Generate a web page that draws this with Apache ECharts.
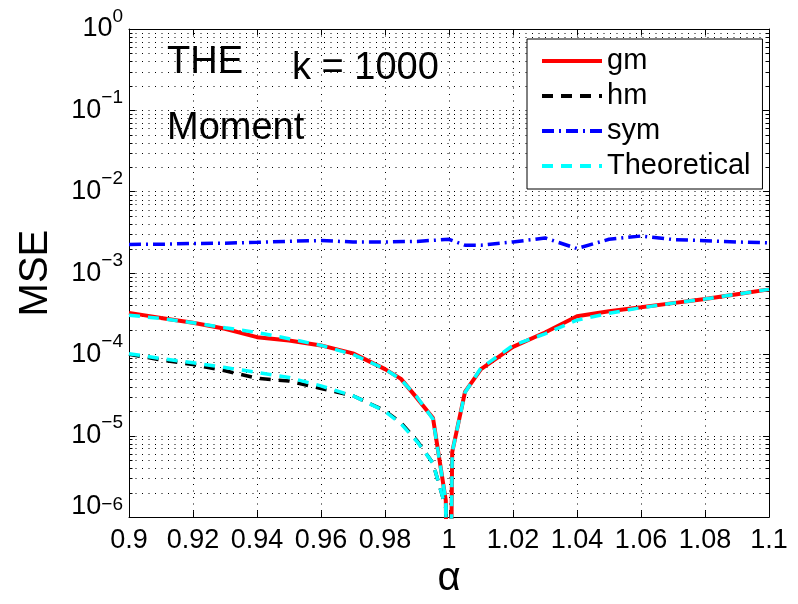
<!DOCTYPE html>
<html><head><meta charset="utf-8">
<script src="https://cdn.jsdelivr.net/npm/echarts@6/dist/echarts.min.js"></script>
<style>html,body{margin:0;padding:0;background:#fff}#c{width:798px;height:604px}</style>
</head><body><div id="c"></div>
<script>
// ---- data ----
const alpha = [0.90,0.91,0.92,0.93,0.94,0.95,0.96,0.97,0.98,0.985,0.99,0.995,0.999,1.000,1.001,1.005,1.01,1.02,1.03,1.04,1.05,1.06,1.07,1.08,1.09,1.10];
const gm = [3.24e-4,2.81e-4,2.45e-4,2.07e-4,1.63e-4,1.48e-4,1.29e-4,1.03e-4,6.6e-5,5.0e-5,2.9e-5,1.65e-5,1.6e-6,1e-9,6.3e-6,3.47e-5,6.6e-5,1.24e-4,1.86e-4,2.94e-4,3.39e-4,3.8e-4,4.27e-4,4.8e-4,5.5e-4,6.3e-4];
const theoGm = [3.03e-4,2.76e-4,2.45e-4,2.13e-4,1.86e-4,1.56e-4,1.29e-4,1.0e-4,6.6e-5,4.9e-5,3.0e-5,1.6e-5,1.6e-6,1e-9,6.3e-6,3.4e-5,6.8e-5,1.29e-4,1.79e-4,2.64e-4,3.2e-4,3.75e-4,4.27e-4,4.8e-4,5.5e-4,6.3e-4];
const alphaHm = [0.90,0.91,0.92,0.93,0.94,0.95,0.96,0.97,0.98,0.985,0.99,0.995,0.999,1.000];
const hm = [1.0e-4,8.55e-5,7.5e-5,6.3e-5,5.1e-5,4.7e-5,3.8e-5,3.1e-5,2.03e-5,1.44e-5,8.7e-6,4.6e-6,1.3e-6,1e-9];
const theoHm = [1.02e-4,8.9e-5,7.9e-5,6.9e-5,6.0e-5,5.2e-5,4.1e-5,3.1e-5,2.0e-5,1.4e-5,8.5e-6,4.6e-6,1.3e-6,1e-9];
const alphaSym = [0.90,0.91,0.92,0.93,0.94,0.95,0.96,0.97,0.98,0.99,1.00,1.005,1.01,1.02,1.03,1.04,1.05,1.06,1.07,1.08,1.09,1.10];
const sym = [2.25e-3,2.26e-3,2.31e-3,2.33e-3,2.39e-3,2.46e-3,2.51e-3,2.41e-3,2.41e-3,2.45e-3,2.6e-3,2.2e-3,2.2e-3,2.41e-3,2.7e-3,2.0e-3,2.6e-3,2.85e-3,2.58e-3,2.5e-3,2.41e-3,2.35e-3];
const xTicks = [0.9,0.92,0.94,0.96,0.98,1,1.02,1.04,1.06,1.08,1.1];
const yDecades = [-6,-5,-4,-3,-2,-1,0];
const legendNames = ['gm','hm','sym','Theoretical'];

const FONT = 'Liberation Sans, Arial, Helvetica, sans-serif';
const pairs = (xs, ys) => xs.map((x, i) => [x, ys[i]]);

// minor log grid positions (2..9 x 10^e)
const minorVals = [];
for (let k = 0; k < yDecades.length - 1; k++) {
  for (let m = 2; m <= 9; m++) minorVals.push([xTicks[0], m * Math.pow(10, yDecades[k])]);
}
const X0 = xTicks[0], X1 = xTicks[xTicks.length - 1];

const chart = echarts.init(document.getElementById('c'), null, {renderer: 'canvas'});

const dotted = [1, 5.5];
const yLabelFmt = v => {
  const e = Math.round(Math.log10(v));
  const s = e === 0 ? '0' : '\u2212' + (-e);
  if (e === yDecades[0]) return '{bl|10}{s|' + s + '}';
  return '{b|10}{s|' + s + '}';
};

const option = {
  backgroundColor: '#fff',
  animation: false,
  grid: {left: 129, right: 29, top: 29, bottom: 76, containLabel: false},
  legend: {
    data: legendNames,
    orient: 'vertical',
    left: 527, top: 39,
    backgroundColor: '#fff',
    borderColor: '#000', borderWidth: 1, borderRadius: 0,
    padding: [7, 12, 8, 13],
    itemWidth: 60, itemHeight: 14, itemGap: 5,
    selectedMode: false,
    itemStyle: {opacity: 0},
    lineStyle: {width: 4},
    textStyle: {fontFamily: FONT, fontSize: 29, color: '#000', lineHeight: 30}
  },
  xAxis: [{
    type: 'value', min: X0, max: X1, interval: 0.02,
    name: '\u03b1', nameLocation: 'middle', nameGap: 35,
    nameTextStyle: {fontFamily: FONT, fontSize: 40, color: '#000'},
    axisLine: {show: true, lineStyle: {color: '#000', width: 1}},
    axisTick: {show: true, inside: true, length: 6, lineStyle: {color: '#000'}},
    axisLabel: {margin: 10, fontFamily: FONT, fontSize: 27, color: '#000',
      formatter: v => String(+v.toFixed(2))},
    splitLine: {show: true, lineStyle: {color: '#000', width: 1, type: dotted}}
  }, {
    type: 'value', min: X0, max: X1, interval: 0.02, position: 'top',
    axisLine: {show: true, onZero: false, lineStyle: {color: '#000', width: 1}},
    axisTick: {show: true, inside: true, length: 6, lineStyle: {color: '#000'}},
    axisLabel: {show: false}, splitLine: {show: false}
  }],
  yAxis: [{
    type: 'log', logBase: 10, min: Math.pow(10, yDecades[0]), max: Math.pow(10, yDecades[yDecades.length-1]), interval: 1,
    name: 'MSE', nameLocation: 'middle', nameGap: 73, nameRotate: 90,
    nameTextStyle: {fontFamily: FONT, fontSize: 40, color: '#000'},
    axisLine: {show: true, lineStyle: {color: '#000', width: 1}},
    axisTick: {show: true, inside: true, length: 6, lineStyle: {color: '#000'}},
    axisLabel: {margin: 6, formatter: yLabelFmt,
      rich: {
        b: {fontFamily: FONT, fontSize: 27, color: '#000', lineHeight: 44, verticalAlign: 'middle'},
        bl: {fontFamily: FONT, fontSize: 27, color: '#000', lineHeight: 44, verticalAlign: 'middle', padding: [0, 0, 22, 0]},
        s: {fontFamily: FONT, fontSize: 19, color: '#000', lineHeight: 10, verticalAlign: 'top'}
      }},
    splitLine: {show: true, lineStyle: {color: '#000', width: 1, type: dotted}}
  }, {
    type: 'log', logBase: 10, min: Math.pow(10, yDecades[0]), max: Math.pow(10, yDecades[yDecades.length-1]), interval: 1,
    position: 'right',
    axisLine: {show: true, onZero: false, lineStyle: {color: '#000', width: 1}},
    axisTick: {show: true, inside: true, length: 6, lineStyle: {color: '#000'}},
    axisLabel: {show: false}, splitLine: {show: false}
  }],
  graphic: [
    {type: 'text', left: 167, top: 62.5 - 19, style: {text: 'THE', fontFamily: FONT, fontSize: 38, fill: '#000'}},
    {type: 'text', left: 167, top: 128.5 - 19, style: {text: 'Moment', fontFamily: FONT, fontSize: 38, fill: '#000'}},
    {type: 'text', left: 292, top: 69 - 19, style: {text: 'k = 1000', fontFamily: FONT, fontSize: 38, fill: '#000'}}
  ],
  series: [
    {
      type: 'custom', name: 'minorGrid', silent: true, z: 1,
      xAxisIndex: 0, yAxisIndex: 0,
      data: minorVals,
      renderItem: (params, api) => {
        const v = api.value(1);
        const p0 = api.coord([X0, v]);
        const p1 = api.coord([X1, v]);
        const y = Math.round(p0[1]) + 0.5;
        return {type: 'group', children: [
          {type: 'line', shape: {x1: p0[0], y1: y, x2: p1[0], y2: y}, style: {stroke: '#000', lineWidth: 1, lineDash: dotted}},
          {type: 'line', shape: {x1: p0[0], y1: y, x2: p0[0] + 3.5, y2: y}, style: {stroke: '#000', lineWidth: 1}},
          {type: 'line', shape: {x1: p1[0] - 3.5, y1: y, x2: p1[0], y2: y}, style: {stroke: '#000', lineWidth: 1}}
        ]};
      }
    },
    {name: 'gm', type: 'line', data: pairs(alpha, gm), symbol: 'none', z: 3,
      lineStyle: {color: '#ff0000', width: 4}, itemStyle: {color: '#ff0000'}},
    {name: 'hm', type: 'line', data: pairs(alphaHm, hm), symbol: 'none', z: 3,
      lineStyle: {color: '#000000', width: 3.5, type: [11, 8]}, itemStyle: {color: '#000'}},
    {name: 'sym', type: 'line', data: pairs(alphaSym, sym), symbol: 'none', z: 3,
      lineStyle: {color: '#0000ff', width: 3.5, type: [12, 5, 2, 5]}, itemStyle: {color: '#0000ff'}},
    {name: 'Theoretical', type: 'line', data: pairs(alpha, theoGm), symbol: 'none', z: 4,
      lineStyle: {color: '#00ffff', width: 3.5, type: [11, 8]}, itemStyle: {color: '#00ffff'}},
    {name: 'Theoretical', type: 'line', data: pairs(alphaHm, theoHm), symbol: 'none', z: 4,
      lineStyle: {color: '#00ffff', width: 3.5, type: [11, 8]}, itemStyle: {color: '#00ffff'}}
  ]
};
chart.setOption(option);
</script>
</body></html>
